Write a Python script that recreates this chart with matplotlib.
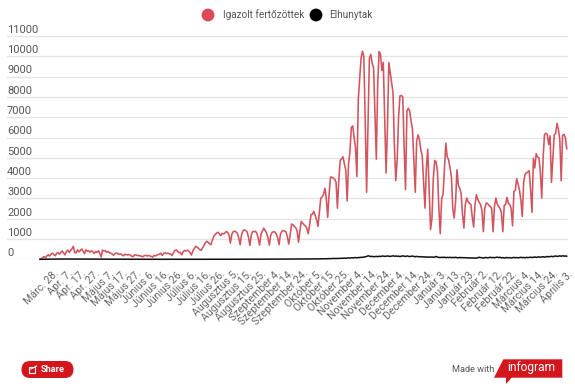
import matplotlib
matplotlib.use('Agg')
from matplotlib import pyplot as plt
from matplotlib.patches import Circle, FancyBboxPatch, Polygon, Rectangle
from matplotlib.transforms import ScaledTranslation

plt.rcParams['font.family'] = ['Roboto', 'DejaVu Sans']

labels = ['Márc. 28.', 'Apr. 7.', 'Apr. 17.', 'Apr. 27.', 'Május 7.', 'Május 17.', 'Május 27.',
          'Június 6.', 'Június 16.', 'Június 26.', 'Július 6.', 'Július 16.', 'Július 26.',
          'Augusztus 5.', 'Augusztus 15.', 'Augusztus 25.', 'Szeptember 4.', 'Szeptember 14.',
          'Szeptember 24.', 'Október 5.', 'Október 15.', 'Október 25.', 'November 4.',
          'November 14.', 'November 24.', 'December 4.', 'December 14.', 'December 24.',
          'Január 3.', 'Január 13.', 'Január 23.', 'Február 2.', 'Február 12.', 'Február 22.',
          'Március 4.', 'Március 14.', 'Március 24.', 'Április 3.']
y_ticks = [0, 1000, 2000, 3000, 4000, 5000, 6000, 7000, 8000, 9000, 10000, 11000]

# napi adatok, heti bontasban (a hetek a hetfoi mélyponttal zarulnak)
confirmed_spring = [10, 40, 90, 130, 70,
                    180, 220, 160, 260, 300, 230, 170,
                    300, 330, 250, 340, 410, 300, 220,
                    380, 450, 340, 430, 520, 640, 330,
                    320, 470, 360, 430, 510, 400, 280,
                    470, 400, 430, 350, 410, 380, 280,
                    390, 340, 420, 300, 110, 450, 410,
                    430, 350, 380, 320, 300, 260, 200,
                    290, 310, 270, 250, 270, 220, 170,
                    250, 230, 210, 240, 200, 150, 130,
                    210, 220, 180, 190, 170, 150, 120,
                    180, 200, 160, 190, 170, 140, 110,
                    190, 170, 200, 230, 260, 300, 190,
                    290, 320, 280, 300, 270, 260, 180,
                    330, 430, 470, 380, 330, 340, 220,
                    380, 430, 410, 450, 400, 330, 210]
confirmed_summer = [420, 520, 640, 600, 540, 470, 440,
                    560, 680, 820, 890, 840, 760, 720,
                    950, 1130, 1220, 1290, 1330, 1260, 1160,
                    1280, 1250, 1290, 1370, 1330, 1190, 800,
                    1230, 1360, 1390, 1350, 1280, 1050, 720,
                    1200, 1400, 1450, 1420, 1350, 1100, 680,
                    1190, 1370, 1360, 1380, 1290, 1050, 700,
                    1240, 1390, 1530, 1420, 1300, 1080, 700,
                    1190, 1320, 1360, 1340, 1250, 1060, 720,
                    1240, 1380, 1420, 1390, 1350, 1100, 750]
confirmed_autumn = [1200, 1740, 1700, 1620, 1550, 1400, 840,
                    1390, 1870, 1780, 1700, 1640, 1530, 1260,
                    1700, 2200, 2220, 2360, 2150, 1950, 1620,
                    2300, 3000, 3080, 3200, 3500, 3000, 2070,
                    3200, 4050, 4050, 4000, 3950, 3800, 2520,
                    3900, 4870, 4950, 5050, 4700, 4400, 2870,
                    4700, 5300, 6500, 6570, 6000, 5500, 4080,
                    7850, 8900, 9900, 10250, 10000, 6800, 3300,
                    6500, 9900, 10100, 9650, 9450, 7200, 4930,
                    8700, 10230, 10100, 9300, 9700, 6900, 4250,
                    6500, 9690, 9200, 8700, 8200, 5600, 3870,
                    4900, 7000, 8050, 8070, 8000, 5500, 3430,
                    7300, 7440, 7300, 6800, 6400, 4900, 3300,
                    5800, 6130, 5900, 5400, 5100, 3800, 2520]
confirmed_winter = [4500, 5420, 3500, 1460, 2000, 4000, 4870,
                    4800, 4300, 2500, 1260, 3000, 3200, 4500,
                    5720, 5050, 4900, 4500, 4100, 2500, 2030,
                    2800, 4410, 3650, 3500, 3250, 2200, 1540,
                    2700, 3020, 2850, 2750, 2700, 2100, 1590,
                    2700, 3180, 2950, 2800, 2700, 2400, 1360,
                    2500, 2770, 2750, 2650, 2600, 2500, 1360,
                    2600, 3020, 2720, 2600, 2500, 2300, 1360,
                    2650, 2700, 3050, 2750, 2700, 2500, 1650,
                    3350, 3400, 3970, 3700, 3400, 2900, 2110,
                    3800, 4200, 4260, 4300, 4360, 3400, 2310,
                    4980, 4500, 5200, 5050, 5000, 4300, 3020,
                    5000, 6150, 6210, 6150, 5650, 6080, 3790,
                    5000, 6130, 6200, 6700, 6400, 5900, 3870,
                    6100, 6150, 6000, 5450]
confirmed = confirmed_spring + confirmed_summer + confirmed_autumn + confirmed_winter

deaths_early = [0, 1, 2, 1, 3, 5, 4, 6, 9, 8, 10, 12, 11, 13, 12, 14, 10, 12, 15, 16,
                12, 13, 14, 15, 11, 10, 12, 14, 13, 10, 11, 12, 10, 9, 11, 10, 12, 10, 8, 11,
                9, 10, 8, 7, 9, 8, 10, 7, 6, 8, 7, 6, 5, 7, 6, 4, 5, 6, 4, 3,
                4, 5, 3, 4, 3, 2, 3, 4, 3, 2, 3, 2, 1, 3, 2, 1, 2, 3, 1, 2,
                1, 2, 1, 0, 2, 1, 2, 1, 0, 1, 2, 1, 0, 1, 2, 1, 1, 0, 2, 1,
                1, 2, 1, 1, 0, 2, 1, 1, 2, 0, 1, 2, 1, 1, 2, 1, 0, 1, 2, 1,
                2, 1, 2, 1, 1, 3, 2, 1, 2, 3, 1, 2, 2, 1, 3, 2, 1, 2, 3, 2,
                2, 3, 2, 1, 3, 4, 2, 3, 4, 2, 3, 5, 3, 4, 5, 4, 3, 5, 6, 4,
                5, 7, 5, 6, 8, 6, 7, 9, 7, 8, 10, 8, 9, 11, 9, 12, 10, 11, 13, 12,
                12, 14, 11, 15, 13, 16, 14, 18, 15, 13, 17, 20, 16, 14, 18, 15, 22, 17, 20, 24]
deaths_late = [17, 22, 25, 20, 28, 24, 30, 27, 35, 30, 38, 40,
               42, 36, 45, 40, 48, 55, 45, 60, 52, 65, 70, 60, 75, 68, 80, 85, 70, 90, 85, 100,
               95, 110, 125, 140, 170, 160, 130, 150, 125, 135, 145, 130, 150, 140, 155, 160, 145, 150, 165, 150,
               140, 160, 170, 150, 165, 145, 155, 135, 150, 170, 155, 140, 165, 150, 135, 150, 160, 140, 125, 145,
               130, 120, 135, 115, 125, 110, 120, 100, 115, 105, 115, 100, 110, 140, 105, 95, 85, 100, 90, 105,
               80, 95, 85, 100, 80, 90, 85, 100, 80, 75, 90, 80, 85, 75, 80, 70, 65, 75, 60, 70,
               60, 65, 55, 80, 100, 85, 75, 60, 80, 90, 70, 85, 100, 80, 90, 75, 95, 105, 85, 100,
               70, 85, 60, 75, 90, 70, 85, 65, 80, 95, 75, 90, 70, 85, 100, 80, 90, 75, 95, 85,
               90, 105, 85, 100, 115, 95, 110, 120, 100, 115, 130, 105, 125, 140, 120, 135, 150, 130, 145, 165,
               140, 155, 170, 150, 175, 155, 165, 150]
deaths = deaths_early + deaths_late
days = list(range(len(confirmed)))

fig = plt.figure(figsize=(5.75, 3.89), dpi=100)
ax = fig.add_axes([7 / 575, 1 - 259.3 / 389, 561 / 575, 223.3 / 389])

ax.plot(days, confirmed, c='#d2545f', lw=1.15, solid_joinstyle='round', clip_on=False, zorder=3)
ax.plot(days, deaths, c='#111111', lw=1.1, solid_joinstyle='round', clip_on=False, zorder=4)

ax.set_xlim(-23.74, 379.9)
ax.set_ylim(0, 11000)
for s in ax.spines.values():
    s.set_visible(False)
ax.set_yticks(y_ticks)
ax.set_yticklabels([])
ax.grid(axis='y', color='#e4e4e4', lw=0.9)
ax.set_axisbelow(True)
ax.tick_params(length=0)
for v in y_ticks:
    ax.annotate(str(v), (0, v), xycoords=ax.get_yaxis_transform(), xytext=(0, 0.8), textcoords='offset points',
                fontsize=8, color='#555555', ha='left', va='bottom')

ax.set_xticks(range(0, 10 * len(labels), 10))
ax.set_xticklabels(labels, rotation=45, ha='right', va='center', rotation_mode='anchor',
                   fontsize=7.6, color='#666666')
offset = ScaledTranslation(12 / 72, -5.5 / 72, fig.dpi_scale_trans)
for t in ax.get_xticklabels():
    t.set_transform(t.get_transform() + offset)

# fejlec es lablec pixelben
over = fig.add_axes([0, 0, 1, 1])
over.set_xlim(0, 575)
over.set_ylim(389, 0)
over.axis('off')
over.patch.set_alpha(0)

over.add_patch(Circle((208, 15), 6.4, fc='#dd4a53', ec='none'))
over.text(223, 15, 'Igazolt fertőzöttek', fontsize=7.2, color='#555555', va='center')
over.add_patch(Circle((316, 15), 6.4, fc='#000000', ec='none'))
over.text(329, 15, 'Elhunytak', fontsize=7.2, color='#555555', va='center')

over.add_patch(FancyBboxPatch((21.5, 361), 52, 17, boxstyle='round,pad=0,rounding_size=8.5',
                              fc='#d3161c', ec='none'))
over.add_patch(Rectangle((28.5, 367), 6.5, 5.5, fc='none', ec='white', lw=0.8))
over.plot([31, 36.5], [369, 366], c='white', lw=0.8)
over.text(41, 369.7, 'Share', fontsize=6.6, color='white', weight='bold', va='center')

over.text(451.5, 369, 'Made with', fontsize=6.6, color='#555555', va='center')
over.add_patch(Polygon([(494, 377.7), (503.3, 359.3), (562.3, 359.3), (562.3, 377.7), (511.7, 377.7),
                        (506, 384), (506, 377.7)], fc='#d3161c', ec='none'))
over.text(531.5, 368, 'infogram', fontsize=8.6, color='white', ha='center', va='center')

fig.savefig('out.png', dpi=100)
